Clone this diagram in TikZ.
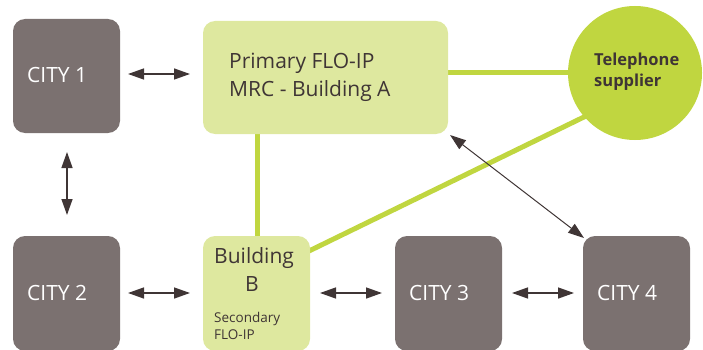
\documentclass[tikz,border=0pt]{standalone}
\usepackage{fontspec}
\setmainfont{Open Sans}
\usetikzlibrary{arrows.meta}
\definecolor{cityg}{HTML}{7B7170}
\definecolor{lightg}{HTML}{DEE89F}
\definecolor{limeg}{HTML}{C0D640}
\definecolor{arr}{HTML}{3F3535}
\begin{document}
\begin{tikzpicture}[x=1pt,y=-1pt,
  city/.style={fill=cityg, rounded corners=12pt},
  bld/.style={fill=lightg, rounded corners=12pt},
  wtxt/.style={text=white, font=\fontsize{21}{24}\selectfont, anchor=base west, inner sep=0},
  dtxt/.style={text=arr, font=\fontsize{21}{24}\selectfont, anchor=base west, inner sep=0},
  stxt/.style={text=arr, font=\fontsize{13.5}{16}\selectfont, anchor=base west, inner sep=0},
  ttxt/.style={text=arr, font=\bfseries\fontsize{16.5}{20}\selectfont, anchor=base west, inner sep=0},
  biarr/.style={draw=arr, line width=1.4pt, {Triangle[length=16pt,width=11pt]}-{Triangle[length=16pt,width=11pt]}},
  gline/.style={draw=limeg, line width=5pt}]
\useasboundingbox (0,0) rectangle (703,350);
% boxes
\path[city] (13,19) rectangle (120,133) node[pos=0.5, inner sep=0] (c1) {};
\path[city] (13,236) rectangle (120,351) node[pos=0.5, inner sep=0] (c2) {};
\path[city] (395,236) rectangle (502,351) node[pos=0.5, inner sep=0] (c3) {};
\path[city] (583,236) rectangle (690,351) node[pos=0.5, inner sep=0] (c4) {};
\coordinate (pA1) at (257,134);
\coordinate (pB1) at (257,237);
\coordinate (pA2) at (447,73);
\coordinate (tS1) at (570,73);
\coordinate (pB2) at (309,251);
\coordinate (tS2) at (586,116);
\draw[gline] (pA1) -- (pB1);
\draw[gline] (pA2) -- (tS1);
\draw[gline] (pB2) -- (tS2);
\path[bld] (203,21) rectangle (448,134);
\path[bld] (203,236) rectangle (310,351);
\node[circle, fill=limeg, minimum size=134pt, inner sep=0] (tel) at (635,73) {};
% texts
\node[wtxt] (t1) at (27,83) {CITY 1};
\node[wtxt] (t2) at (27,300) {CITY 2};
\node[wtxt] (t3) at (409,300) {CITY 3};
\node[wtxt] (t4) at (597,300) {CITY 4};
\node[dtxt] (pa) at (229,69) {Primary FLO-IP};
\node[dtxt] (pb) at (229,97) {MRC - Building A};
\node[dtxt] (ba) at (214,263) {Building};
\node[dtxt] (bb) at (245,291) {B};
\node[stxt] (bc) at (214,322) {Secondary};
\node[stxt] (bd) at (214,339) {FLO-IP};
\node[ttxt] (ts1) at (594,66) {Telephone};
\node[ttxt] (ts2) at (594,87) {supplier};
% arrows
\coordinate (a1) at (128,74); \coordinate (a2) at (190,74);
\coordinate (a3) at (67,152); \coordinate (a4) at (67,215);
\coordinate (a5) at (128,293); \coordinate (a6) at (190,293);
\coordinate (a7) at (320,293); \coordinate (a8) at (382,293);
\coordinate (a9) at (512,293); \coordinate (a10) at (574,293);
\coordinate (a11) at (450,135); \coordinate (a12) at (584,238);
\draw[biarr] (a1) -- (a2);
\draw[biarr] (a3) -- (a4);
\draw[biarr] (a5) -- (a6);
\draw[biarr] (a7) -- (a8);
\draw[biarr] (a9) -- (a10);
\draw[biarr, line width=1pt] (a11) -- (a12);
\end{tikzpicture}
\end{document}
